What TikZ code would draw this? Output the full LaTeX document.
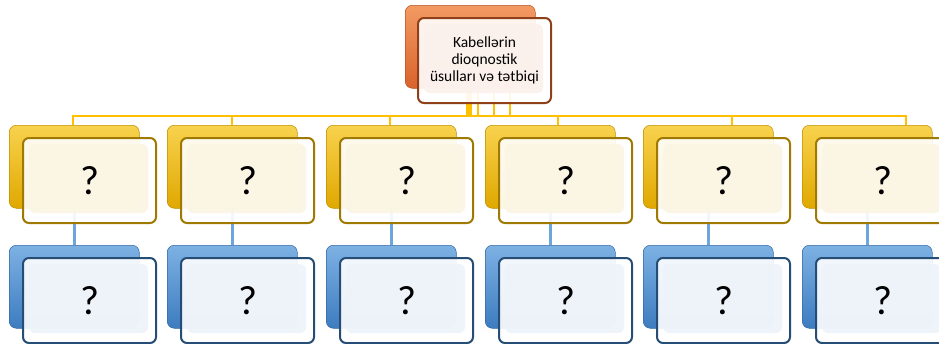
\documentclass[tikz,border=0pt]{standalone}
\usepackage{fontspec}
\setmainfont{Carlito}

\definecolor{orA}{HTML}{F39A63}
\definecolor{orB}{HTML}{D9622B}
\definecolor{orD}{HTML}{8E4019}
\definecolor{orF}{HTML}{FBF1EC}
\definecolor{yelA}{HTML}{F8D24E}
\definecolor{yelB}{HTML}{E0A800}
\definecolor{yelD}{HTML}{A07A00}
\definecolor{yelF}{HTML}{FBF5E3}
\definecolor{bluA}{HTML}{7DB1E3}
\definecolor{bluB}{HTML}{3D7CC0}
\definecolor{bluD}{HTML}{264D75}
\definecolor{bluF}{HTML}{EEF3FA}
\definecolor{conYel}{HTML}{FFC000}
\definecolor{conBlu}{HTML}{6CA6DD}

\begin{document}
\begin{tikzpicture}[x=1pt,y=-1pt,
yline/.style={draw=conYel, line width=2.6pt},
bline/.style={draw=conBlu, line width=3pt},
backbox/.style 2 args={rounded corners=7pt, top color=#1, bottom color=#2,
  draw=#2!85!black, line width=0.5pt, minimum width=130pt, minimum height=83pt,
  inner sep=0pt, anchor=north west},
frontbox/.style 2 args={rounded corners=6pt, draw=#1, line width=2pt,
  fill=white, fill opacity=0.9, text opacity=1, minimum width=133pt,
  minimum height=85pt, inner sep=0pt, anchor=north west,
  font=\fontsize{41}{44}\selectfont,
  path picture={\fill[#2] ([shift={(6pt,-6pt)}]path picture bounding box.north west)
    rectangle ([shift={(-8pt,10pt)}]path picture bounding box.south east);}},
]
\useasboundingbox (0,0) rectangle (939,343);

% back boxes
\node[backbox={orA}{orB}] (rootbk) at (405,5) {};
\foreach \i/\x in {1/9,2/167,3/326,4/485,5/643,6/802}{%
 \node[backbox={yelA}{yelB}] (yb\i) at (\x,125) {};
 \node[backbox={bluA}{bluB}] (bb\i) at (\x,245) {};
}

% connectors
\foreach \i/\r/\d in {1/467/73,2/471/232,3/478/390,4/494/558,5/510/732,6/469/906}{%
 \coordinate (out\i) at (\r,87);
 \coordinate (drop\i) at (\d,116);
 \draw[yline] (out\i) |- (drop\i) -- (drop\i |- yb\i.north);
 \draw[bline] (yb\i.south) -- (bb\i.north);
}

% front boxes
\node[frontbox={orD}{orF}, font=\fontsize{15.5}{17}\selectfont, align=center] (root)
  at (417,17) {Kabellərin\\dioqnostik\\üsulları və tətbiqi};
\foreach \i/\x in {1/9,2/167,3/326,4/485,5/643,6/802}{%
 \node[frontbox={yelD}{yelF}] (yf\i) at (\x+13,137) {?};
 \node[frontbox={bluD}{bluF}] (bf\i) at (\x+13,257) {?};
}

\end{tikzpicture}
\end{document}
